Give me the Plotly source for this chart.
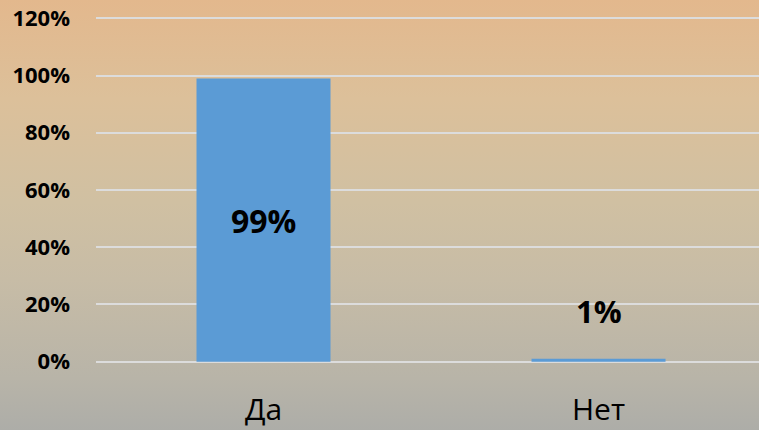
import urllib.parse
import plotly.graph_objects as go

categories = ["Да", "Нет"]
values = [0.99, 0.01]
value_labels = ["99%", "1%"]
tick_vals = [0, 0.2, 0.4, 0.6, 0.8, 1.0, 1.2]
tick_text = ["0%", "20%", "40%", "60%", "80%", "100%", "120%"]

W, H = 759, 430
L, R, T, B = 96, 0, 14, 64

# sunset-like background as an svg gradient
svg = (
    "<svg xmlns='http://www.w3.org/2000/svg' width='759' height='430' preserveAspectRatio='none'>"
    "<defs><linearGradient id='g' x1='0' y1='0' x2='0' y2='1'>"
    "<stop offset='0' stop-color='#E3B88D'/>"
    "<stop offset='0.23' stop-color='#DCC09A'/>"
    "<stop offset='0.47' stop-color='#D0C0A2'/>"
    "<stop offset='0.65' stop-color='#C7BCA6'/>"
    "<stop offset='0.88' stop-color='#B8B4A8'/>"
    "<stop offset='1' stop-color='#ADADA8'/>"
    "</linearGradient></defs>"
    "<rect width='759' height='430' fill='url(#g)'/></svg>"
)
bg_src = "data:image/svg+xml;charset=utf-8," + urllib.parse.quote(svg)

pw, ph = W - L - R, H - T - B

fig = go.Figure()
fig.add_trace(go.Bar(
    x=categories, y=values, width=0.4,
    marker=dict(color="#5B9BD5", line=dict(width=0)),
    hoverinfo="skip",
))

# value labels: inside the tall bar, above the tiny one
fig.add_annotation(x=categories[0], y=values[0] / 2, text="<b>" + value_labels[0] + "</b>",
                   showarrow=False, font=dict(size=32, color="black"))
fig.add_annotation(x=categories[1], y=values[1], text="<b>" + value_labels[1] + "</b>",
                   showarrow=False, yshift=48, font=dict(size=31, color="black"))

fig.add_layout_image(dict(
    source=bg_src, xref="paper", yref="paper",
    x=-L / pw, y=1 + T / ph, sizex=W / pw, sizey=H / ph,
    xanchor="left", yanchor="top", sizing="stretch", layer="below",
))

fig.update_layout(
    width=W, height=H,
    margin=dict(l=L, r=R, t=T, b=B),
    paper_bgcolor="#CFC0A2",
    plot_bgcolor="rgba(0,0,0,0)",
    showlegend=False,
    font=dict(family="Open Sans, sans-serif", color="black"),
    xaxis=dict(range=[-0.5, 1.479], showgrid=False, zeroline=False, showline=False,
               ticks="", tickfont=dict(size=30), ticklabelstandoff=23),
    yaxis=dict(range=[-0.015, 1.215], tickvals=tick_vals, ticktext=[f"<b>{t}</b>" for t in tick_text],
               showgrid=True, gridcolor="#DCDCDC", gridwidth=1.5, zeroline=False,
               showline=False, ticks="", tickfont=dict(size=22), ticklabelstandoff=25),
)

# drop the default page margin so the chart fills the window
fig.write_html("out.html", config={"displayModeBar": False},
               post_script="document.body.style.margin='0';document.body.style.overflow='hidden';")
